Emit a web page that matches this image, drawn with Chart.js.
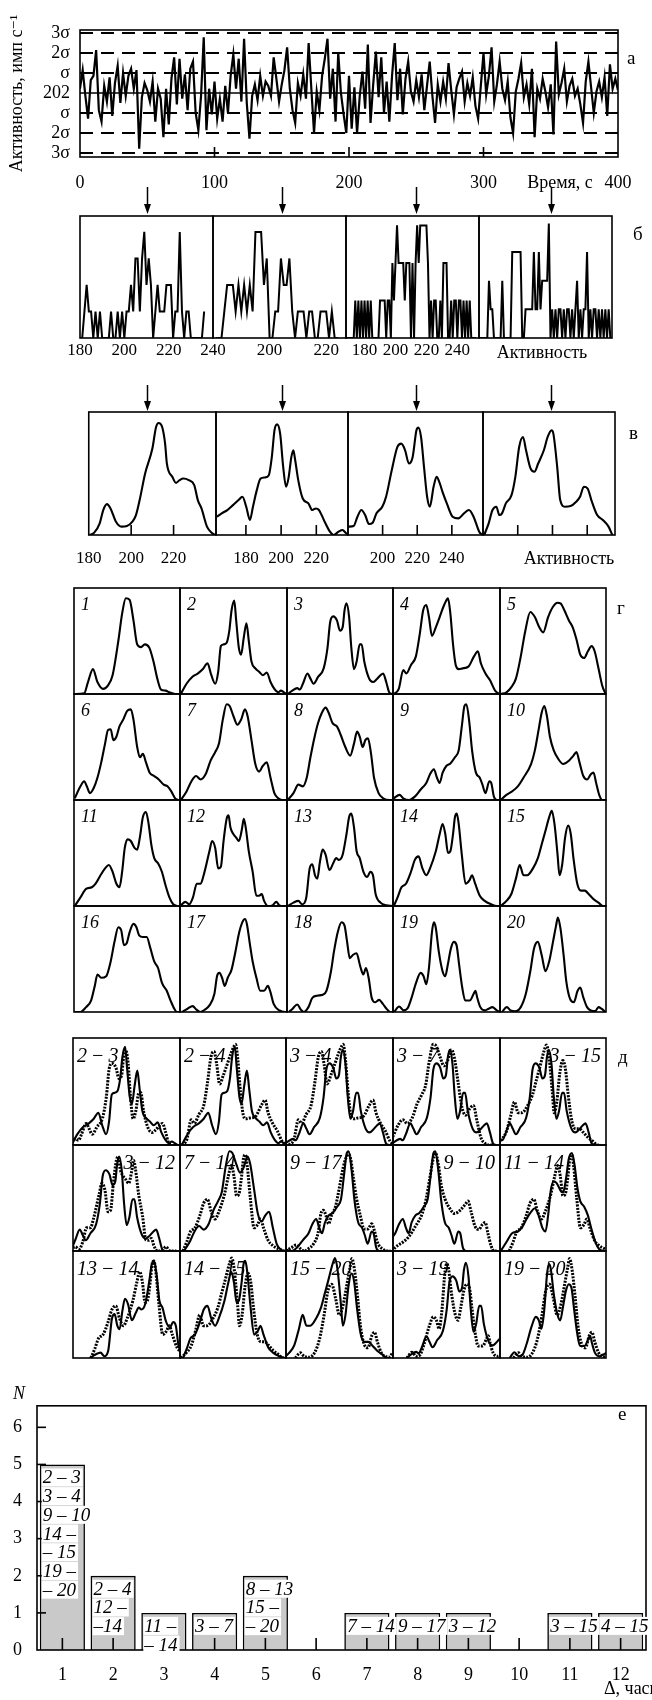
<!DOCTYPE html>
<html>
<head>
<meta charset="utf-8">
<script src="https://cdn.jsdelivr.net/npm/chart.js@4.4.1/dist/chart.umd.min.js"></script>
<style>
    body { margin: 0; width: 652px; height: 1700px; overflow: hidden; position: relative; background: #fff; font-family: "Liberation Serif", "DejaVu Serif", serif; }
    canvas { position: absolute; }
    .txt { position: absolute; color: #000; line-height: 1; white-space: nowrap; }
    .it { font-style: italic; }
</style>
</head>
<body>
<script>
// =========================================================
// DATA
// =========================================================

// --- a: activity vs time --- //
const MEAN_ACTIVITY = 202;
const SIGMA = 14;
const SAMPLE_STEP = 2;
const activity = [
    205, 218, 200, 184, 211, 214, 232, 190, 182, 207,
    196, 213, 186, 209, 221, 195, 216, 200, 214, 219,
    205, 218, 163, 199, 209, 204, 196, 210, 182, 205,
    198, 171, 205, 180, 212, 227, 194, 226, 198, 215,
    190, 219, 224, 188, 176, 200, 241, 176, 205, 187,
    210, 184, 198, 182, 207, 188, 214, 229, 205, 226,
    196, 240, 195, 170, 200, 208, 197, 214, 200, 210,
    207, 200, 227, 212, 196, 208, 218, 234, 205, 190,
    181, 209, 200, 215, 198, 237, 205, 174, 203, 190,
    214, 226, 240, 198, 219, 182, 230, 202, 187, 174,
    214, 177, 206, 174, 200, 217, 191, 236, 181, 208,
    231, 199, 227, 188, 210, 182, 214, 237, 197, 219,
    187, 212, 224, 203, 196, 211, 199, 215, 190, 207,
    224, 200, 181, 208, 196,
    210, 198, 223, 204, 187, 206, 212, 217, 196, 209,
    200, 213, 193, 184, 207, 230, 201, 214, 234, 196,
    208, 224, 205, 197, 210, 185, 174, 203, 212, 223,
    199, 208, 194, 219, 171, 205, 198, 212, 203, 192,
    208, 173, 238, 201, 209, 219, 196, 207, 212, 200,
    205, 194, 181, 210, 224, 206, 188, 203, 210, 199,
    213, 186, 222, 205, 212, 204
];
const sigmaLevels = [-3, -2, -1, 0, 1, 2, 3];
const sigmaLabels = ["3σ", "2σ", "σ", "202", "σ", "2σ", "3σ"];
const timeTicks = [0, 100, 200, 300, 400];
const timeInnerTicks = [100, 200, 300];
const arrowTimes = [50, 150, 250, 350];

// --- б: raw activity histograms (count per activity value) --- //
const histStarts = [180, 181, 168, 170];
const hist1 = [0, 0, 1, 2, 1, 1, 0, 1, 0, 1, 0, 0, 0, 0, 1, 0, 0, 1, 0, 1,
    0, 1, 1, 2, 1, 3, 3, 1, 3, 4, 2, 3, 2, 0, 1, 2, 1, 1, 1, 2,
    2, 2, 0, 1, 1, 4, 1, 0, 1, 1, 0, 0, 0, 0, 0, 0, 1];
const hist2 = [0, 0, 0, 1, 2, 2, 2, 1, 2, 1, 2, 1, 2, 1, 4, 4, 4, 2, 3, 0,
    0, 1, 1, 3, 2, 2, 3, 1, 0, 1, 1, 1, 0, 1, 1, 0, 0, 1, 1, 1,
    0, 1, 0, 0];
const hist3 = [0, 0, 0, 0, 0, 0, 1, 0, 1, 0, 1, 0, 1, 0, 1, 0, 1, 0, 0, 0,
    0, 0, 1, 1, 1, 1, 0, 1, 1, 0, 2, 1, 2, 3, 2, 2, 2, 2, 1, 2,
    2, 2, 0, 2, 0, 2, 3, 2, 3, 3, 3, 3, 3, 2, 0, 1, 0, 1, 1, 0,
    0, 1, 0, 2, 2, 2, 0, 0, 1, 0, 1, 1, 0, 1, 1, 0, 1, 0, 1, 0,
    1, 0, 0, 0, 0];
const hist4 = [0, 0, 0, 0, 0, 0, 2, 1, 1, 0, 0, 0, 0, 0, 2, 0, 0, 0, 0, 0,
    3, 3, 3, 3, 3, 3, 0, 0, 1, 1, 1, 1, 1, 3, 1, 1, 3, 1, 2, 2,
    2, 2, 4, 0, 1, 0, 1, 0, 1, 1, 0, 1, 0, 1, 1, 0, 1, 0, 1, 2,
    0, 1, 0, 1, 1, 3, 0, 1, 0, 1, 1, 0, 1, 0, 1, 0, 1, 0, 1, 0,
    0];
const histTops = [4.6, 4.6, 3.25, 4.26];
const histRanges = [[180, 240], [180, 227], [168, 254], [170, 250]];
const histTickValues = [[180, 200, 220, 240], [200, 220], [180, 200, 220, 240], []];

// --- в: smoothed spectra, [percent of window, percent of height] --- //
const smooth1 = [[0.6, 0], [4.3, 1.9], [8.6, 9.5], [11.4, 20.3], [14.3, 25.1], [17.1, 21.6], [21.4, 10.8], [25.7, 6.8], [30, 7.3], [34.3, 10.8], [37.1, 16.2], [40, 28.4], [44.3, 50], [50, 70.3], [52.9, 87.8], [54.9, 91.1], [57.7, 87.8], [60, 74.3], [61.4, 58.1], [65.7, 47.3], [68.6, 42.4], [71.4, 44.6], [74.3, 45.9], [78.6, 44.6], [82.9, 40.5], [85.7, 28.4], [88.6, 21.6], [92.9, 6.8], [97.1, 1.4], [99.4, 0]];
const smooth2 = [[0.6, 14.9], [4.3, 17.6], [8.6, 20.3], [12.9, 24.3], [17.1, 28.4], [20, 31.1], [22.9, 23], [25.7, 12.2], [28, 23], [30.9, 36.5], [33.7, 45.9], [37.1, 46.8], [40, 48.6], [42.3, 63.5], [44.3, 85.1], [46.3, 89.9], [48.6, 82.4], [50.9, 55.4], [53.1, 39.2], [55.1, 47.3], [57.1, 63.5], [58.6, 68.9], [60, 60.8], [62.3, 44.6], [65.7, 29.7], [70, 25.7], [72.9, 20.3], [75.7, 21.6], [78, 20.3], [80, 16.2], [82.9, 9.5], [86.3, 2.7], [89.1, 0], [92.9, 2.7], [95.7, 4.1], [98.6, 1.4], [100, 0]];
const smooth3 = [[0.6, 6.8], [4.2, 7.3], [7, 14.9], [9.9, 20.3], [12.7, 16.2], [15.5, 8.9], [18.3, 10], [21.1, 17.6], [25.4, 23], [28.2, 31.1], [32.4, 52.7], [36.6, 71.6], [39.4, 74.3], [42.3, 68.9], [45.1, 58.1], [47.9, 63.5], [50.7, 85.1], [52.1, 87.3], [54.1, 79.7], [56.3, 55.4], [58.6, 31.1], [60.6, 23], [63.4, 39.2], [65.6, 47.3], [67.6, 43.2], [70.4, 33.8], [73.2, 25.7], [77.5, 14.9], [81.7, 13.5], [85.9, 17.6], [89.6, 20.3], [93, 14.9], [97.2, 2.7], [99.4, 0]];
const smooth4 = [[0.9, 0], [4.3, 9.5], [7.2, 20.3], [10.1, 23], [12.4, 16.2], [14.4, 17.6], [17.3, 25.7], [21.6, 32.4], [24.5, 47.3], [27.4, 71.6], [30.3, 79.7], [32.6, 68.9], [36, 54.1], [38.9, 51.4], [41.8, 58.1], [46.1, 68.9], [49, 79.7], [51.9, 85.1], [53.3, 82.4], [56.2, 55.4], [58.5, 28.4], [62, 23], [66.3, 23.5], [70.6, 27], [73.5, 31.1], [76.4, 39.2], [79.3, 37.8], [82.1, 28.4], [86.5, 16.2], [90.8, 12.2], [95.1, 6.8], [98, 0]];
const smoothRanges = [[180, 240], [163, 238], [180, 258], [170, 246]];
const smoothTickValues = [[180, 200, 220], [180, 200, 220], [200, 220, 240], []];
const smoothInnerTicks = [[200, 220], [180, 200, 220], [200, 220, 240], [190, 210, 230]];

// --- г: 20 hourly spectra, [percent of window, percent of height] --- //
const curve01 = [[0.7, 0], [9.6, 0.6], [13.2, 11.3], [17.9, 23.5], [22.1, 11.3], [27.5, 4.8], [32.1, 8.1], [36.4, 17.7], [41.8, 50], [45.4, 75.8], [48.9, 90.3], [52.5, 88.7], [56.1, 69.4], [59.6, 46.8], [63.2, 44.2], [66.8, 46.8], [71.1, 43.5], [75, 30.6], [78.6, 14.5], [82.1, 4.2], [86.4, 3.2], [90, 1.6], [95.4, 0], [98.9, 0]];
const curve02 = [[0.7, 0], [6.1, 9.7], [11.4, 16.1], [16.8, 19.4], [21.4, 23.5], [25.7, 29], [29.3, 17.7], [32.9, 9.7], [35.7, 21], [38.2, 45.2], [40.7, 46.8], [43.6, 48.4], [46.1, 59.7], [48.2, 79], [50.7, 88.1], [52.5, 69.4], [55, 43.5], [57.1, 37.1], [59.6, 53.2], [62.1, 66.8], [64.3, 50], [66.8, 30.6], [70.4, 24.2], [73.9, 21], [77.5, 17.7], [81.1, 20.3], [84.6, 11.3], [88.2, 4.8], [91.8, 1.6], [94.3, 3.2], [97.1, 1.6], [99.6, 0]];
const curve03 = [[0.7, 0], [5, 3.2], [9.6, 5.5], [12.1, 4.2], [15, 9.7], [19.3, 19.4], [22.1, 14.5], [25, 9.7], [29.3, 16.1], [34.6, 24.2], [38.2, 43.5], [40.7, 67.7], [43.6, 73.2], [47.1, 69.4], [50, 59.7], [52.5, 62.9], [54.3, 79], [56.1, 85.5], [58.6, 72.6], [60.7, 43.5], [63.2, 23.5], [65.7, 30.6], [68.6, 46.8], [70.4, 46.8], [72.9, 30.6], [77.5, 14.5], [81.1, 11.3], [84.6, 13.9], [88.2, 17.7], [90.7, 19.4], [93.6, 11.3], [96.4, 1.6], [99.3, 0]];
const curve04 = [[0.7, 0], [5.4, 4.8], [9.6, 22.6], [12.5, 19.4], [16.8, 27.4], [21.4, 35.5], [25, 56.5], [28.2, 79], [31.1, 83.9], [33.6, 72.6], [36.4, 54.8], [40, 62.9], [43.6, 72.6], [47.1, 82.3], [50, 88.7], [51.4, 90.3], [53.6, 76.1], [56.1, 46.8], [58.6, 27.4], [61.4, 23.5], [65, 24.2], [70.4, 25.8], [75.7, 35.5], [79.3, 40.3], [82.1, 29], [86.4, 19.4], [90.7, 12.9], [95.4, 3.2], [99.6, 0]];
const curve05 = [[0.7, 0], [6.1, 1.6], [10.7, 6.5], [15, 14.5], [19.3, 33.9], [23.9, 59.7], [28.6, 77.4], [32.9, 72.6], [37.1, 62.9], [40.7, 58.1], [45.4, 72.6], [50, 82.3], [54.3, 86.1], [57.1, 85.5], [60.7, 79], [65, 69.4], [68.6, 62.9], [72.1, 51.6], [75.7, 37.1], [79.3, 33.9], [82.9, 40.3], [86.4, 45.2], [89.3, 40.3], [92.9, 24.2], [96.4, 8.1], [99.6, 0]];
const curve06 = [[0.7, 1.6], [6.1, 12.9], [9.6, 17.7], [12.1, 12.9], [15, 6.5], [18.6, 11.3], [22.1, 21], [25.7, 35.5], [29.3, 53.2], [32.1, 66.1], [34.6, 66.8], [37.1, 56.5], [40, 59.7], [42.9, 69.4], [46.4, 75.8], [50, 83.9], [53.6, 85.5], [56.1, 75.8], [59.6, 50], [62.1, 40.3], [65, 43.5], [67.9, 35.5], [71.4, 25.8], [75.7, 22.6], [80, 19.4], [84.6, 14.5], [88.2, 12.9], [91.8, 8.1], [95.4, 1.6], [97.9, 0]];
const curve07 = [[0.7, 0], [6.1, 8.1], [10.7, 17.7], [15, 22.6], [19.3, 19.4], [23.9, 24.2], [28.6, 37.1], [32.9, 45.2], [36.4, 53.2], [40, 75.8], [43.6, 90.3], [46.4, 88.7], [50, 79], [53.6, 71], [57.1, 75.8], [60.7, 85.5], [63.2, 79], [66.8, 56.5], [70.4, 33.9], [73.9, 26.8], [77.5, 32.3], [81.1, 35.5], [84.6, 21], [88.2, 6.5], [91.8, 1.6], [95.4, 0], [98.9, 0]];
const curve08 = [[0.7, 0], [6.1, 6.5], [10.7, 14.5], [15, 12.9], [18.6, 21], [22.1, 40.3], [25.7, 58.1], [29.3, 72.6], [32.9, 82.3], [36.4, 87.1], [39.3, 82.3], [42.9, 72.6], [47.1, 69.4], [50.7, 61.3], [55, 50], [59.6, 41.9], [63.2, 53.2], [66.1, 64.5], [68.6, 59.7], [71.4, 50], [73.9, 56.5], [76.4, 58.1], [79.3, 43.5], [82.1, 21], [86.4, 6.5], [90.7, 1.6], [97.1, 0], [99.6, 0]];
const curve09 = [[0.7, 1.6], [6.1, 4.8], [9.6, 1.6], [15, 0], [20.4, 3.2], [25.7, 9.7], [31.1, 16.1], [34.6, 24.2], [38.2, 29], [41.1, 21], [43.6, 16.1], [46.4, 25.8], [50, 32.3], [53.6, 34.5], [57.9, 40.3], [61.4, 46.8], [64.3, 69.4], [66.8, 88.7], [68.6, 90.3], [71.4, 72.6], [73.9, 46.8], [77.5, 25.8], [81.1, 21], [83.6, 14.5], [86.4, 6.5], [90, 17.7], [91.8, 16.1], [94.3, 3.2], [97.1, 0], [99.6, 0]];
const curve10 = [[0.7, 0], [6.1, 4.8], [11.4, 8.1], [16.8, 12.9], [22.1, 21], [29.3, 33.9], [32.9, 46.8], [36.4, 66.1], [39.3, 82.3], [41.8, 88.7], [44.3, 79], [47.1, 59.7], [50.7, 46.8], [55, 38.7], [59.6, 33.9], [65, 37.1], [69.3, 41.9], [72.1, 45.2], [75, 35.5], [78.6, 22.6], [82.1, 19.4], [85.7, 24.2], [88.2, 25.8], [90.7, 16.1], [93.6, 4.8], [96.4, 0], [99.6, 0]];
const curve11 = [[0.7, 0], [6.1, 8.1], [11.4, 16.1], [16.8, 17.7], [20.4, 21], [25, 29], [29.3, 35.5], [32.9, 38.7], [36.4, 32.3], [40, 21], [42.9, 17.7], [45.4, 32.3], [47.9, 54.8], [50.7, 62.9], [53.6, 61.3], [57.1, 54.8], [59.6, 53.2], [62.1, 64.5], [65, 83.9], [67.9, 88.7], [70.4, 77.4], [72.9, 58.1], [75.7, 45.2], [79.3, 40.3], [82.9, 32.3], [86.4, 19.4], [90, 8.1], [93.6, 1.6], [97.1, 0]];
const curve12 = [[0.7, 0.6], [5, 3.9], [8.6, 1.6], [12.1, 8.1], [15.7, 21], [19.3, 21], [22.1, 29], [27.5, 51.6], [30, 61.3], [32.9, 54.8], [35.7, 35.5], [38.2, 37.1], [40.7, 61.3], [43.6, 82.3], [45.4, 85.5], [47.1, 74.2], [50, 67.7], [52.5, 64.5], [55, 61.3], [57.9, 72.6], [59.6, 82.3], [61.4, 74.2], [64.3, 51.6], [67.9, 32.3], [71.4, 9.7], [73.9, 9.7], [76.4, 11.3], [78.6, 4.8], [82.1, 0], [86.4, 0.6], [90, 3.9], [92.9, 0.6], [97.1, 0], [99.6, 0]];
const curve13 = [[0.7, 0], [6.1, 3.2], [10.7, 4.8], [14.3, 1.6], [17.9, 6.5], [21.4, 35.5], [23.9, 39.4], [26.4, 29], [28.6, 25.8], [31.1, 41.9], [33.6, 53.2], [36.4, 48.4], [40, 33.9], [43.6, 40.3], [46.4, 45.2], [48.9, 43.5], [52.5, 48.4], [56.1, 67.7], [58.6, 83.9], [60.7, 87.1], [63.2, 74.2], [65.7, 51.6], [68.6, 45.2], [72.1, 32.3], [75.7, 27.4], [78.6, 32.3], [81.1, 29], [83.6, 11.3], [88.2, 3.2], [93.6, 0.6], [99.6, 0]];
const curve14 = [[0.7, 0], [4.3, 8.1], [7.9, 17.7], [12.1, 21], [16.8, 32.3], [20.4, 43.5], [23.9, 46.8], [27.5, 35.5], [31.1, 29], [34.6, 35.5], [40, 51.6], [43.6, 67.7], [46.4, 77.4], [48.9, 67.7], [51.4, 50], [53.6, 51.6], [56.1, 67.7], [57.9, 83.9], [59.6, 87.1], [61.4, 77.4], [64.3, 48.4], [67.9, 21], [71.4, 24.2], [73.9, 29], [76.8, 21], [81.1, 9.7], [85.7, 4.8], [91.8, 1.6], [97.1, 0], [99.6, 0]];
const curve15 = [[0.7, 0], [6.1, 4.8], [10.7, 11.3], [15, 25.8], [18.6, 38.7], [22.1, 29], [25.7, 29], [31.1, 35.5], [35.7, 45.2], [39.3, 58.1], [42.9, 71], [46.4, 83.9], [48.9, 89.7], [51.4, 77.4], [54.3, 48.4], [56.1, 29], [58.6, 38.7], [61.4, 64.5], [64.3, 75.8], [66.8, 67.7], [69.3, 45.2], [72.9, 21], [76.4, 14.5], [80, 14.5], [83.6, 11.3], [88.2, 6.5], [92.9, 3.2], [97.1, 0], [99.6, 0]];
const curve16 = [[0.7, 0], [6.1, 0], [11.4, 4.6], [16.1, 10.8], [19.6, 24.6], [22.1, 35.4], [25.7, 32.3], [30.4, 33.8], [34.6, 47.7], [38.2, 66.2], [41.8, 80], [44.6, 76.9], [47.1, 63.1], [49.6, 64.6], [52.5, 75.4], [56.1, 83.1], [58.9, 80], [61.4, 72.3], [65, 70.8], [68.6, 70.8], [72.1, 60], [75.7, 47.7], [79.3, 41.5], [82.9, 27.7], [87.5, 20], [91.1, 10.8], [94.6, 3.1], [97.1, 0], [99.6, 0]];
const curve17 = [[1.8, 0], [7.1, 3.1], [11.8, 5.5], [15.4, 2.2], [18.9, 0], [23.2, 2.2], [27.5, 6.2], [32.1, 16.9], [34.6, 33.8], [36.8, 36.9], [39.3, 32.3], [41.8, 24.6], [44.6, 32.3], [48.2, 40], [51.8, 56.9], [55.4, 75.4], [58.2, 84.6], [60.7, 87.7], [62.5, 83.1], [65, 66.2], [67.9, 47.7], [71.4, 32.3], [75, 20], [78.6, 20], [82.1, 24.6], [84.6, 18.5], [87.5, 7.7], [92.9, 1.5], [98.2, 0], [99.6, 0]];
const curve18 = [[1.8, 0], [5.3, 3.1], [9.6, 7.1], [13.1, 2.2], [16, 0], [20.2, 4.6], [23.8, 13.2], [28.4, 15.4], [33.7, 16.3], [37.2, 20], [41.5, 38.5], [44.3, 56.9], [47.9, 75.4], [51.4, 84.6], [54.3, 81.5], [56.7, 66.2], [59.2, 50.8], [62.1, 53.8], [65.6, 55.4], [69.1, 43.1], [72, 35.4], [74.5, 41.5], [77, 32.3], [79.8, 13.8], [83.3, 9.2], [86.9, 11.4], [90.4, 7.7], [93.9, 3.1], [97.5, 0], [99.6, 0]];
const curve19 = [[1.1, 0], [5.7, 5.2], [9.9, 1.5], [13.4, 3.1], [17, 12.3], [21.6, 27.7], [25.8, 36.9], [28.6, 33.8], [31.1, 26.2], [33.6, 41.5], [36.4, 75.4], [38.2, 84.6], [39.9, 80], [42.8, 56.9], [46.3, 38.5], [48.8, 33.8], [51.2, 44.6], [54.1, 60], [56.9, 66.2], [59.4, 63.1], [61.8, 44.6], [64.7, 23.1], [67.5, 10.8], [71.7, 10.8], [75.3, 16.9], [77, 20], [78.8, 13.2], [81.6, 4.6], [85.9, 1.5], [89.4, 3.1], [92.9, 4.6], [96.1, 2.2], [99.3, 0]];
const curve20 = [[1.8, 0], [6.4, 4.6], [10, 1.5], [14.3, 0.6], [19.6, 4.6], [24.3, 16.9], [28.6, 38.5], [32.1, 60], [35.7, 66.2], [39.3, 53.8], [42.9, 38.5], [46.4, 47.7], [50, 66.2], [52.9, 81.5], [54.6, 89.2], [57.1, 78.5], [60, 53.8], [62.5, 29.2], [66.1, 12.3], [69.6, 9.2], [73.2, 20], [75.7, 23.1], [78.6, 13.8], [82.1, 4.6], [85.7, 1.5], [90, 0.9], [92.9, 4.6], [95.7, 3.1], [99.3, 0]];
const hourCurves = [curve01, curve02, curve03, curve04, curve05, curve06, curve07, curve08, curve09, curve10,
    curve11, curve12, curve13, curve14, curve15, curve16, curve17, curve18, curve19, curve20];

// --- д: overlaid pairs (solid = first, dotted = second), shifts in percent of window --- //
const pairFirst = [2, 2, 3, 3, 3, 3, 7, 9, 9, 11, 13, 14, 15, 3, 19];
const pairSecond = [3, 4, 4, 7, 15, 12, 14, 17, 10, 14, 14, 15, 20, 19, 20];
const pairFirstShift = [-2, 1, -3, -3, -10, -13, 3, -10, -29, 0, 15, 2, -3, 12, 8];
const pairSecondShift = [-7, 1, 2, -6, -5, -3, 2, -2, -2, 8, 16, 0, 7, 12, 11];
const pairLabelRight = [false, false, false, false, true, true, false, false, true, false, false, false, false, false, false];

// --- е: histogram of similar pairs vs time gap --- //
const deltaHours = ["1", "2", "3", "4", "5", "6", "7", "8", "9", "10", "11", "12"];
const pairCounts = [5, 2, 1, 1, 2, 0, 1, 1, 1, 0, 1, 1];
const countTicks = [0, 1, 2, 3, 4, 5, 6];
const barPairLabels = [
    ["2 – 3", "3 – 4", "9 – 10", "14 –", "– 15", "19 –", "– 20"],
    ["2 – 4", "12 –", "–14"],
    ["11 –", "– 14"],
    ["3 – 7"],
    ["8 – 13", "15 –", "– 20"],
    [],
    ["7 – 14"],
    ["9 – 17"],
    ["3 – 12"],
    [],
    ["3 – 15"],
    ["4 – 15"]
];

// =========================================================
// SETUP
// =========================================================

const FONT = "'Liberation Serif', 'DejaVu Serif', serif";
Chart.defaults.font.family = FONT;
Chart.defaults.color = "#000";

// --- Helpers --- //

function createCanvas(left, top, width, height) {
    const canvas = document.createElement("canvas");
    canvas.width = width;
    canvas.height = height;
    canvas.style.left = left + "px";
    canvas.style.top = top + "px";
    canvas.style.width = width + "px";
    canvas.style.height = height + "px";
    document.body.appendChild(canvas);
    return canvas;
}

function addText(text, x, y, size, align, italic) {
    const span = document.createElement("span");
    span.className = italic ? "txt it" : "txt";
    span.textContent = text;
    span.style.left = x + "px";
    span.style.top = y + "px";
    span.style.fontSize = size + "px";
    let shift = "0";
    if (align === "center") shift = "-50%";
    if (align === "right") shift = "-100%";
    span.style.transform = "translate(" + shift + ", -50%)";
    document.body.appendChild(span);
}

function createFramePlugin(innerXTicks, xTickLength, innerYTicks, yTickLength) {
    return {
        id: "frame",
        afterDatasetsDraw(chart) {
            const area = chart.chartArea;
            const ctx = chart.ctx;
            ctx.save();
            ctx.strokeStyle = "#000";
            ctx.lineWidth = 1.6;
            ctx.strokeRect(area.left, area.top, area.right - area.left, area.bottom - area.top);

            for (let i = 0; i < innerXTicks.length; i++) {
                const x = chart.scales.x.getPixelForValue(innerXTicks[i]);
                ctx.beginPath();
                ctx.moveTo(x, area.bottom);
                ctx.lineTo(x, area.bottom - xTickLength);
                ctx.stroke();
            }

            for (let i = 0; i < innerYTicks.length; i++) {
                const y = chart.scales.y.getPixelForValue(innerYTicks[i]);
                ctx.beginPath();
                ctx.moveTo(area.left, y);
                ctx.lineTo(area.left + yTickLength, y);
                ctx.stroke();
            }
            ctx.restore();
        }
    };
}

function curveDataset(points, shift, dotted) {
    return {
        data: points.map(point => ({ x: point[0] + shift, y: point[1] })),
        borderColor: "#000",
        borderWidth: dotted ? 3 : 2.1,
        borderDash: dotted ? [2, 1.3] : [],
        cubicInterpolationMode: "monotone",
        pointRadius: 0,
        fill: false
    };
}

function createLinePanel(panel) {
    const margin = panel.margin;
    const canvas = createCanvas(panel.left - margin.left, panel.top - margin.top,
        panel.width + margin.left + margin.right, panel.height + margin.top + margin.bottom);
    const tickValues = panel.tickValues;
    const showTicks = Boolean(tickValues && tickValues.length > 0);

    return new Chart(canvas, {
        type: "line",
        data: { datasets: panel.datasets },
        options: {
            responsive: false,
            animation: false,
            events: [],
            layout: {
                padding: { left: margin.left, right: margin.right, top: margin.top, bottom: showTicks ? 0 : margin.bottom }
            },
            elements: { point: { radius: 0 } },
            scales: {
                x: {
                    type: "linear",
                    min: panel.xMin,
                    max: panel.xMax,
                    display: showTicks,
                    grid: { display: false, drawTicks: false },
                    border: { display: false },
                    afterFit(scale) { scale.height = showTicks ? margin.bottom : 0; },
                    afterBuildTicks(scale) {
                        if (showTicks) scale.ticks = tickValues.map(value => ({ value: value }));
                    },
                    ticks: {
                        padding: panel.tickPadding || 0,
                        autoSkip: false,
                        maxRotation: 0,
                        font: { size: 17 },
                        callback: value => String(value)
                    }
                },
                y: { type: "linear", min: panel.yMin, max: panel.yMax, display: false }
            },
            plugins: { legend: { display: false }, tooltip: { enabled: false } }
        },
        plugins: [createFramePlugin(panel.innerTicks || [], 10, [], 0)]
    });
}

// =========================================================
// PANEL а
// =========================================================

const arrowPlugin = {
    id: "arrows",
    afterDraw(chart) {
        const ctx = chart.ctx;
        const rows = [[187, 214], [385, 411]];
        ctx.save();
        ctx.strokeStyle = "#000";
        ctx.fillStyle = "#000";
        ctx.lineWidth = 1.5;
        arrowTimes.forEach(time => {
            const x = Math.round(chart.scales.x.getPixelForValue(time)) + 0.5;
            rows.forEach(row => {
                ctx.beginPath();
                ctx.moveTo(x, row[0]);
                ctx.lineTo(x, row[1] - 6);
                ctx.stroke();
                ctx.beginPath();
                ctx.moveTo(x - 3.5, row[1] - 10);
                ctx.lineTo(x + 3.5, row[1] - 10);
                ctx.lineTo(x, row[1]);
                ctx.closePath();
                ctx.fill();
            });
        });
        ctx.restore();
    }
};

const levelDatasets = sigmaLevels.map(level => ({
    data: [{ x: timeTicks[0], y: MEAN_ACTIVITY + level * SIGMA }, { x: timeTicks[timeTicks.length - 1], y: MEAN_ACTIVITY + level * SIGMA }],
    borderColor: "#000",
    borderWidth: level === 0 ? 1.6 : 1.8,
    borderDash: level === 0 ? [] : [13, 8],
    pointRadius: 0,
    fill: false
}));

const seriesDataset = {
    data: activity.map((value, index) => ({ x: index * SAMPLE_STEP, y: value })),
    borderColor: "#000",
    borderWidth: 2.2,
    tension: 0,
    pointRadius: 0,
    fill: false
};

new Chart(createCanvas(0, 0, 652, 420), {
    type: "line",
    data: { datasets: levelDatasets.concat([seriesDataset]) },
    options: {
        responsive: false,
        animation: false,
        events: [],
        layout: { padding: { left: 0, right: 34, top: 30, bottom: 223 } },
        scales: {
            x: {
                type: "linear",
                min: 0,
                max: 400,
                grid: { display: false, drawTicks: false },
                border: { display: false },
                afterFit(scale) { scale.height = 40; },
                afterBuildTicks(scale) { scale.ticks = timeTicks.map(value => ({ value: value })); },
                ticks: { padding: 15, autoSkip: false, maxRotation: 0, font: { size: 18 }, callback: value => String(value) }
            },
            y: {
                type: "linear",
                min: MEAN_ACTIVITY - 3.2 * SIGMA,
                max: MEAN_ACTIVITY + 3.15 * SIGMA,
                grid: { display: false, drawTicks: false },
                border: { display: false },
                afterFit(scale) { scale.width = 80; },
                afterBuildTicks(scale) { scale.ticks = sigmaLevels.map(level => ({ value: MEAN_ACTIVITY + level * SIGMA })); },
                ticks: { padding: 10, autoSkip: false, font: { size: 18 }, callback: (value, index) => sigmaLabels[index] },
                title: { display: true, text: "Активность, имп с⁻¹", font: { size: 18 }, padding: { top: 6, bottom: 0 } }
            }
        },
        plugins: { legend: { display: false }, tooltip: { enabled: false } }
    },
    plugins: [createFramePlugin(timeInnerTicks, 10, [], 0), arrowPlugin]
});

addText("Время, с", 560, 182, 18, "center", false);
addText("а", 627, 57, 19, "left", false);

// =========================================================
// PANEL б
// =========================================================

const histCounts = [hist1, hist2, hist3, hist4];
const histBounds = [80, 213, 346, 479, 612];

for (let i = 0; i < 4; i++) {
    createLinePanel({
        left: histBounds[i], top: 216, width: histBounds[i + 1] - histBounds[i], height: 122,
        margin: { left: 20, right: 20, top: 2, bottom: 30 },
        xMin: histRanges[i][0], xMax: histRanges[i][1], yMin: 0, yMax: histTops[i],
        tickValues: histTickValues[i], tickPadding: 2,
        datasets: [{
            data: histCounts[i].map((count, index) => ({ x: histStarts[i] + index, y: count })),
            borderColor: "#000", borderWidth: 2, tension: 0, pointRadius: 0, fill: false
        }]
    });
}

addText("Активность", 542, 352, 18, "center", false);
addText("б", 633, 233, 19, "left", false);

// =========================================================
// PANEL в
// =========================================================

const smoothCurves = [smooth1, smooth2, smooth3, smooth4];
const smoothBounds = [83, 216, 348, 483, 615];

for (let i = 0; i < 4; i++) {
    const low = smoothRanges[i][0];
    const high = smoothRanges[i][1];
    createLinePanel({
        left: smoothBounds[i], top: 412, width: smoothBounds[i + 1] - smoothBounds[i], height: 123,
        margin: { left: 20, right: 20, top: 2, bottom: 30 },
        xMin: low, xMax: high, yMin: 0, yMax: 100,
        tickValues: smoothTickValues[i], tickPadding: 13,
        innerTicks: smoothInnerTicks[i],
        datasets: [{
            data: smoothCurves[i].map(point => ({ x: low + point[0] * (high - low) / 100, y: point[1] })),
            borderColor: "#000", borderWidth: 2.1, cubicInterpolationMode: "monotone", pointRadius: 0, fill: false
        }]
    });
}

addText("Активность", 569, 558, 18, "center", false);
addText("в", 629, 432, 19, "left", false);

// =========================================================
// PANEL г
// =========================================================

const hourCols = [74, 180, 287, 393, 500, 606];
const hourRows = [588, 694, 800, 906, 1012];

for (let i = 0; i < hourCurves.length; i++) {
    const col = i % 5;
    const row = Math.floor(i / 5);
    createLinePanel({
        left: hourCols[col], top: hourRows[row], width: hourCols[col + 1] - hourCols[col], height: hourRows[row + 1] - hourRows[row],
        margin: { left: 3, right: 3, top: 3, bottom: 3 },
        xMin: 0, xMax: 100, yMin: 0, yMax: 100,
        datasets: [curveDataset(hourCurves[i], 0, false)]
    });
    addText(String(i + 1), hourCols[col] + 7, hourRows[row] + 16, 18, "left", true);
}

addText("г", 617, 607, 19, "left", false);

// =========================================================
// PANEL д
// =========================================================

const pairCols = [73, 180, 286, 393, 500, 606];
const pairRows = [1038, 1145, 1251, 1358];

for (let i = 0; i < pairFirst.length; i++) {
    const col = i % 5;
    const row = Math.floor(i / 5);
    createLinePanel({
        left: pairCols[col], top: pairRows[row], width: pairCols[col + 1] - pairCols[col], height: pairRows[row + 1] - pairRows[row],
        margin: { left: 3, right: 3, top: 3, bottom: 3 },
        xMin: 0, xMax: 100, yMin: 0, yMax: 96,
        datasets: [
            curveDataset(hourCurves[pairFirst[i] - 1], pairFirstShift[i], false),
            curveDataset(hourCurves[pairSecond[i] - 1], pairSecondShift[i], true)
        ]
    });
    const label = pairFirst[i] + "\u2009\u2212\u2009" + pairSecond[i];
    if (pairLabelRight[i]) {
        addText(label, pairCols[col + 1] - 5, pairRows[row] + 17, 20, "right", true);
    } else {
        addText(label, pairCols[col] + 4, pairRows[row] + 17, 20, "left", true);
    }
}

addText("д", 618, 1056, 19, "left", false);

// =========================================================
// PANEL е
// =========================================================

const barLabelPlugin = {
    id: "barLabels",
    afterDatasetsDraw(chart) {
        const ctx = chart.ctx;
        const bars = chart.getDatasetMeta(0).data;
        ctx.save();
        ctx.font = "italic 19px " + FONT;
        ctx.textBaseline = "middle";
        bars.forEach((bar, index) => {
            const left = bar.x - bar.width / 2;
            barPairLabels[index].forEach((text, line) => {
                const y = bar.y + 13 + line * 18.7;
                const width = ctx.measureText(text).width;
                ctx.fillStyle = "#fff";
                ctx.fillRect(left + 2, y - 9, width + 3, 18);
                ctx.fillStyle = "#000";
                ctx.fillText(text, left + 3, y + 1);
            });
        });
        ctx.restore();
    }
};

new Chart(createCanvas(0, 1380, 652, 320), {
    type: "bar",
    data: {
        labels: deltaHours,
        datasets: [{
            data: pairCounts,
            backgroundColor: "#c9c9c9",
            borderColor: "#000",
            borderWidth: 1.6,
            barPercentage: 0.89,
            categoryPercentage: 1
        }]
    },
    options: {
        responsive: false,
        animation: false,
        events: [],
        layout: { padding: { left: 0, right: 6, top: 12, bottom: 0 } },
        scales: {
            x: {
                grid: { display: false, drawTicks: false },
                border: { display: false },
                afterFit(scale) { scale.height = 50; },
                ticks: { padding: 14, font: { size: 18 }, maxRotation: 0, autoSkip: false }
            },
            y: {
                min: 0,
                max: 6.58,
                grid: { display: false, drawTicks: false },
                border: { display: false },
                afterFit(scale) { scale.width = 37; },
                afterBuildTicks(scale) { scale.ticks = countTicks.map(value => ({ value: value })); },
                ticks: { padding: 15, font: { size: 18 }, autoSkip: false, callback: value => String(value) }
            }
        },
        plugins: { legend: { display: false }, tooltip: { enabled: false } }
    },
    plugins: [createFramePlugin(deltaHours.map((label, index) => index), 12, countTicks.slice(1), 9), barLabelPlugin]
});

addText("N", 19, 1393, 18, "center", true);
addText("е", 618, 1413, 19, "left", false);
addText("Δ, часы", 604, 1688, 18, "left", false);
</script>
</body>
</html>
